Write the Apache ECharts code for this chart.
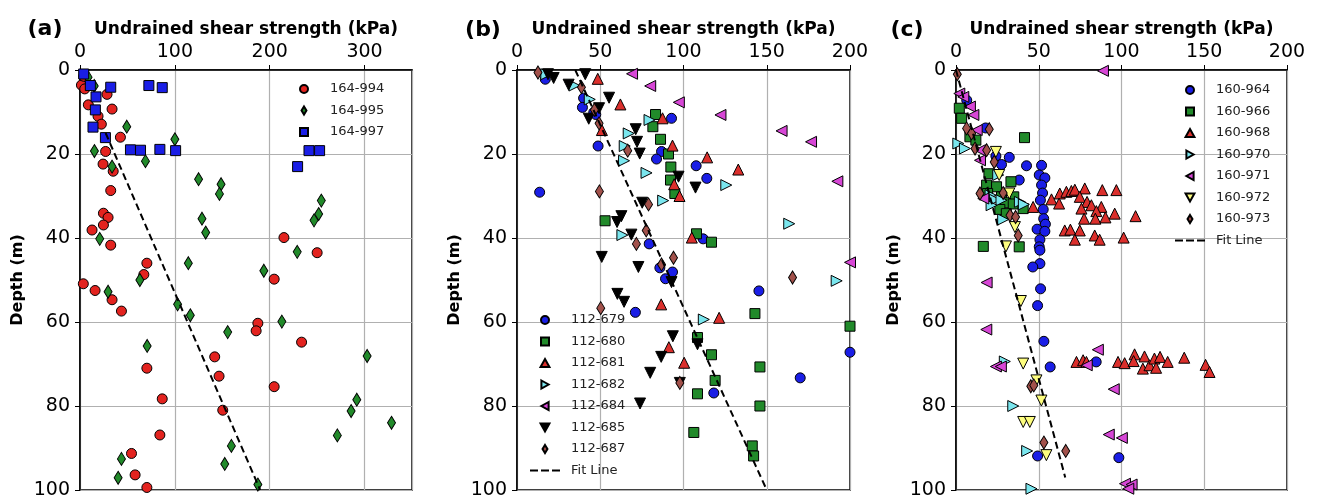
<!DOCTYPE html>
<html><head><meta charset="utf-8">
<script src="https://cdn.jsdelivr.net/npm/echarts@6/dist/echarts.min.js"></script>
<style>html,body{margin:0;padding:0;background:#fff}#c{width:1318px;height:501px}</style>
</head><body><div id="c"></div>
<script>
// ---- Panel (a) ----
const s164_994 = [[1.5,3.6],[4,1.5],[5,4.5],[28.5,5.8],[33.8,9.3],[8.8,8.3],[19,11],[22.5,12.9],[42.6,16],[27,19.4],[24.3,22.4],[35,24.1],[32.4,28.7],[24.7,34.1],[29.6,35.1],[24.7,36.9],[12.7,38.1],[32.4,41.7],[215,39.9],[250,43.5],[70.5,46],[67.3,48.7],[3.5,50.9],[15.9,52.5],[33.8,54.7],[43.7,57.4],[204.7,49.8],[187.5,60.3],[185.7,62.1],[233.6,64.8],[142,68.3],[146.6,72.9],[70.5,71],[204.7,75.4],[86.7,78.3],[150.5,81],[84.2,86.9],[54.3,91.3],[58.1,96.4],[70.5,99.4]];
const s164_995 = [[8.5,1.7],[15,3.8],[49.3,13.5],[100,16.5],[15.2,19.3],[33.8,23],[69,21.7],[125,26],[148.7,27.2],[147,29.5],[254.4,31.1],[128.6,35.4],[132.5,38.7],[251.6,34.3],[246.7,35.8],[20.8,40.2],[229,43.3],[114.2,46],[193.8,47.8],[63.1,50],[29.6,52.8],[102.9,55.8],[116.3,58.4],[212.8,59.9],[155.7,62.4],[70.8,65.7],[302.7,68.1],[291.8,78.5],[285.8,81.2],[328.4,84],[271.3,87],[159.6,89.5],[152.6,93.8],[43.7,92.6],[40.2,97.1],[187.5,98.7]];
const s164_997 = [[3.9,0.95],[10.9,3.7],[32.4,4.1],[72.6,3.7],[86.7,4.2],[16.9,6.4],[16.2,9.5],[13.7,13.6],[26.8,16.1],[53.2,19],[63.8,19.1],[84.2,18.9],[100.8,19.2],[241.4,19.2],[252.6,19.2],[229.4,23]];
const fitA = [[27,15],[190,100]];

// ---- Panel (b) ----
const s112_679 = [[17,2.2],[40,6.7],[39.3,8.9],[46.1,10.1],[47.3,10.6],[92.8,11.5],[48.7,18.1],[86.8,19.4],[83.8,21.2],[107.6,22.8],[114,25.8],[13.6,29.1],[111.8,40.2],[79.4,41.4],[85.8,47.1],[93.4,48.1],[89.2,49.7],[145.3,52.6],[71.1,57.7],[200,67.2],[170.1,73.3],[118.2,76.9]];
const s112_680 = [[83.2,10.6],[81.6,13.5],[86.2,16.5],[91,20],[92.4,23.1],[92.2,26.2],[94.8,29.4],[52.9,35.9],[107.8,39],[116.8,41],[142.9,58],[200,61],[108.4,63.7],[116.8,67.8],[145.9,70.7],[119,73.9],[108.4,77.1],[145.9,80],[106.2,86.3],[141.3,89.5],[142.1,91.9]];
const s112_681 = [[48.5,2.1],[62.1,8.2],[87.4,11.5],[51,14.3],[93.4,18],[114.2,20.8],[132.9,23.7],[94.4,27.2],[97.6,30],[105,39.9],[86.6,55.8],[121.4,59],[91.2,66],[100.4,69.7]];
const s112_682 = [[17.6,1],[34.5,3.7],[43.7,7],[79.6,11.9],[67.1,15.1],[64.7,18.1],[64.3,21.6],[77.8,24.5],[125.7,27.4],[87.8,31.1],[163.5,36.6],[63.3,39.3],[192,50.2],[112.2,59.4]];
const s112_684 = [[69.1,0.9],[80,3.8],[97.2,7.7],[122.2,10.7],[158.9,14.5],[176.6,17.1],[192.4,26.5],[200,45.8]];
const s112_685 = [[18.6,1],[22,1.9],[41,1],[31,3.5],[55.3,6.6],[49.3,9.1],[43.1,11.6],[71.3,14.1],[72.1,17.1],[73.7,19.9],[97,25.4],[107.2,28],[75.2,31.6],[62.7,34.8],[60.1,36.2],[68.7,39.2],[50.9,44.5],[72.9,46.9],[60.3,53.3],[64.3,55.2],[92.8,50.5],[93.6,63.4],[86.6,68.3],[80,72.1],[108.4,65.3],[97.8,74.5],[73.9,79.4]];
const s112_687 = [[12.6,0.6],[38.7,4.1],[46.5,9.5],[49.3,12.7],[66.5,19.2],[49.5,28.9],[79,32],[77.6,38.2],[71.7,41.4],[94,44.7],[86.8,46.3],[165.5,49.4],[50.3,56.7],[97.8,74.5]];
const fitB = [[35,0],[150,100]];

// ---- Panel (c) ----
const s160_964 = [[6.5,7.2],[17.9,13.8],[24.1,20.5],[32.2,20.8],[27.5,22.5],[42.6,22.8],[51.7,22.7],[38.2,26.2],[50.3,25],[53.7,25.7],[51.7,27.4],[52.3,29.3],[51,31],[52.7,33.2],[53,35.4],[54,36.7],[49,37.9],[53.7,38.4],[50.7,40.4],[50.3,42.1],[50.7,42.9],[50.7,46.1],[46.4,46.9],[51.1,52.1],[49.3,56.1],[53.1,64.6],[84.7,69.5],[56.9,70.7],[49.3,91.9],[98.4,92.3]];
const s160_966 = [[2,9.1],[3.4,11.5],[8.4,15.9],[12,16.7],[41.4,16.1],[19.9,24.7],[33.2,26.6],[18.5,27.4],[24.5,27.8],[19.1,29.4],[27.5,30.2],[34.9,30.2],[29.9,31.6],[34.6,31.9],[40.6,33],[26.5,33.2],[30.4,34.2],[16.5,42],[38.2,42.1]];
const s160_968 = [[46.6,32.6],[57.7,30.8],[62.7,29.4],[66.7,29],[69.7,28.8],[71.8,28.5],[77.8,28.2],[88.4,28.6],[96.9,28.6],[74.8,30.2],[79.2,31.4],[81.8,32.2],[75.8,33],[87.8,32.6],[77.4,35.4],[84.8,33.6],[84.2,35.4],[90.3,35.1],[95.9,34.2],[108.5,34.8],[62.3,31.8],[65.7,38.2],[69.1,38],[74.8,38.2],[71.8,40.4],[83.8,39.4],[86.8,40.4],[101.3,39.9],[72.8,69.5],[76.8,69.1],[78.8,69.5],[97.9,69.5],[101.9,69.8],[107.9,67.7],[107.3,69.3],[113.9,68.2],[112.9,71.1],[116.9,70.3],[119.9,68.7],[120.9,70.9],[123.3,68.3],[127.9,69.5],[137.9,68.5],[150.8,70.2],[153.2,71.9]];
const s160_970 = [[1.4,17.5],[5.4,18.7],[25.5,25],[20.9,29.8],[23.5,30.9],[27.5,31],[21.5,32.2],[38.6,31.4],[41,32],[28.5,35.6],[29.5,69.4],[34.6,80],[43,90.7],[45.6,99.7]];
const s160_971 = [[88.8,0.2],[2,5.6],[4.4,6.4],[8.4,8.7],[10.5,10.7],[12.5,14.3],[14.5,19.1],[14.5,21.5],[16.5,30.6],[18.5,50.6],[18.3,61.8],[24.1,70.6],[27.1,70.6],[79,70.3],[85.7,66.6],[95.3,76],[92.3,86.8],[100.2,87.6],[102.1,98.5],[106.1,98.7],[104.1,99.7]];
const s160_972 = [[24.1,19.5],[26.1,25],[32.2,29.4],[35.6,37.4],[30.2,42],[39.2,55],[40.6,69.9],[48.6,73.9],[51.6,78.7],[40.6,83.8],[44.6,83.8],[54.6,91.7]];
const s160_973 = [[0.8,1],[6.4,13.9],[9.4,15.1],[20.1,14.1],[11.5,18.7],[18.5,19.1],[23.1,21.9],[14.5,29.4],[28.5,29.3],[32.6,34.6],[36,35],[37.6,39.4],[45.2,75.3],[47,75.1],[53.1,88.7],[66.3,90.7]];
const fitC = [[0,0],[66,97]];

const panelTitles = ['(a)','(b)','(c)'];
const xMax = [350,200,200];
const xInterval = [100,50,50];
const xName = 'Undrained shear strength (kPa)';
const yName = 'Depth (m)';

const FONT = 'DejaVu Sans';
const SYM = {
  circle: {symbol:'circle', size:10, icon:'circle'},
  square: {symbol:'rect', size:10, icon:'path://M0,0L10,0L10,10L0,10Z'},
  up: {symbol:'path://M5,0L10,9L0,9Z', size:11, icon:'path://M5,0L10,9L0,9Z'},
  right: {symbol:'path://M0,0L9,5L0,10Z', size:11, icon:'path://M0,0L9,5L0,10Z'},
  left: {symbol:'path://M9,0L0,5L9,10Z', size:11, icon:'path://M9,0L0,5L9,10Z'},
  down: {symbol:'path://M0,0L10,0L5,9Z', size:11, icon:'path://M0,0L10,0L5,9Z'},
  diamond: {symbol:'diamond', size:[8,13], icon:'path://M4,0L8,6.5L4,13L0,6.5Z'}
};
const DASH_ICON = 'path://M0,0h8v2h-8z M11,0h8v2h-8z M22,0h8v2h-8z';
const C = {red:'#e3231f', green:'#218a2a', blue:'#1a1ee6', cyan:'#7ae6ee', magenta:'#d746d6', black:'#000000', brown:'#a2514b', yellow:'#fdfd7e', tri:'#db2f2c'};

function sc(name, data, gi, sym, color){
  return {type:'scatter', name, data, xAxisIndex:gi, yAxisIndex:gi,
    symbol:SYM[sym].symbol, symbolSize:SYM[sym].size,
    itemStyle:{color, borderColor:'#000', borderWidth:1, opacity:1},
    emphasis:{disabled:true}, z:3};
}
function fit(name, data, gi){
  return {type:'line', name, data, xAxisIndex:gi, yAxisIndex:gi, symbol:'none', showSymbol:false,
    lineStyle:{color:'#000', width:2, type:[7,4]}, itemStyle:{color:'#000'}, z:4, emphasis:{disabled:true}};
}

const grids = [
  {left:80, width:332, top:70, height:420},
  {left:517, width:333, top:70, height:420},
  {left:956, width:331, top:70, height:420}
].map(g => Object.assign(g, {show:true, borderColor:'#000', borderWidth:1.5, containLabel:false}));

const xAxes = grids.map((g,i)=>({
  gridIndex:i, type:'value', position:'top', min:0, max:xMax[i], interval:xInterval[i],
  name:xName, nameLocation:'middle', nameGap:32,
  nameTextStyle:{fontFamily:FONT, fontWeight:'bold', fontSize:17, color:'#000'},
  axisLine:{show:true, onZero:false, lineStyle:{color:'#000', width:1.5}},
  axisTick:{show:true, length:5, lineStyle:{color:'#000', width:1}},
  axisLabel:{fontFamily:FONT, fontSize:19, color:'#000', margin:8, showMaxLabel: i!==0, showMinLabel:true},
  splitLine:{show:true, lineStyle:{color:'#b0b0b0', width:1.2}}
}));
const yAxes = grids.map((g,i)=>({
  gridIndex:i, type:'value', inverse:true, min:0, max:100, interval:20,
  name:yName, nameLocation:'middle', nameGap:54, nameRotate:90,
  nameTextStyle:{fontFamily:FONT, fontWeight:'bold', fontSize:16, color:'#000'},
  axisLine:{show:true, onZero:false, lineStyle:{color:'#000', width:1.5}},
  axisTick:{show:true, length:5, lineStyle:{color:'#000', width:1}},
  axisLabel:{fontFamily:FONT, fontSize:19, color:'#000', margin:10},
  splitLine:{show:true, lineStyle:{color:'#b0b0b0', width:1.2}}
}));

const panelSeries = [
  [['164-994', s164_994, 'circle', C.red], ['164-995', s164_995, 'diamond', C.green], ['164-997', s164_997, 'square', C.blue]],
  [['112-679', s112_679, 'circle', C.blue], ['112-680', s112_680, 'square', C.green], ['112-681', s112_681, 'up', C.tri],
   ['112-682', s112_682, 'right', C.cyan], ['112-684', s112_684, 'left', C.magenta], ['112-685', s112_685, 'down', C.black],
   ['112-687', s112_687, 'diamond', C.brown]],
  [['160-964', s160_964, 'circle', C.blue], ['160-966', s160_966, 'square', C.green], ['160-968', s160_968, 'up', C.tri],
   ['160-970', s160_970, 'right', C.cyan], ['160-971', s160_971, 'left', C.magenta], ['160-972', s160_972, 'down', C.yellow],
   ['160-973', s160_973, 'diamond', C.brown]]
];
const fits = [['Fit (a)', fitA, false], ['Fit Line', fitB, true], ['Fit Line', fitC, true]];

const series = [];
const legends = [];
const legendPos = [[299,82],[530,313],[1175,83]];
panelSeries.forEach((list, gi) => {
  const items = [];
  list.forEach(([name, data, sym, color]) => {
    series.push(sc(name, data, gi, sym, color));
    items.push({name, icon: SYM[sym].icon});
  });
  series.push(fit(fits[gi][0], fits[gi][1], gi));
  if (fits[gi][2]) items.push({name:'Fit Line', icon: DASH_ICON});
  legends.push({data:items, left:legendPos[gi][0], top:legendPos[gi][1], orient:'vertical',
    itemWidth:30, itemHeight:8, itemGap:7.5, padding:0, symbolKeepAspect:true,
    selectedMode:false, backgroundColor:'transparent',
    textStyle:{fontFamily:FONT, fontSize:13, color:'#222', lineHeight:14, padding:[0,0,0,6]}});
});

const titles = [[40,24],[478,25],[902,25]].map((p,i)=>({
  text:panelTitles[i], left:p[0], top:p[1], textAlign:'center', textVerticalAlign:'middle',
  textStyle:{fontFamily:FONT, fontWeight:'bold', fontSize:22, color:'#000'}
}));

const chart = echarts.init(document.getElementById('c'), null, {renderer:'canvas'});
chart.setOption({
  animation:false, backgroundColor:'#fff',
  title:titles, grid:grids, xAxis:xAxes, yAxis:yAxes, legend:legends, series
});
</script></body></html>
